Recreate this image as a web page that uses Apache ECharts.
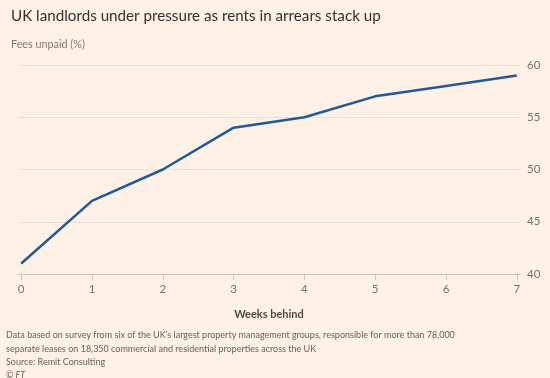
<!DOCTYPE html>
<html>
<head>
<meta charset="utf-8">
<script src="https://cdn.jsdelivr.net/npm/echarts@6/dist/echarts.min.js"></script>
<style>
html,body{margin:0;padding:0;background:#fff1e5;}
#chart{width:550px;height:378px;}
</style>
</head>
<body>
<div id="chart"></div>
<script>
const weeks = [0, 1, 2, 3, 4, 5, 6, 7];
const feesUnpaid = [41, 47, 50, 54, 55, 57, 58, 59];
const yTicks = [40, 45, 50, 55, 60];
const titleText = "UK landlords under pressure as rents in arrears stack up";
const subtitleText = "Fees unpaid (%)";
const xAxisName = "Weeks behind";
const footLines = [
  "Data based on survey from six of the UK\u2019s largest property management groups, responsible for more than 78,000",
  "separate leases on 18,350 commercial and residential properties across the UK",
  "Source: Remit Consulting",
  "\u00a9 FT"
];

const FONT = "Lato, 'Open Sans', sans-serif";
const chart = echarts.init(document.getElementById('chart'), null, {renderer: 'canvas'});

const option = {
  backgroundColor: '#fff1e5',
  animation: false,
  textStyle: {fontFamily: FONT},
  title: [
    {text: titleText, left: 6, top: 4,
     textStyle: {fontFamily: FONT, fontSize: 15.2, fontWeight: 'normal', color: '#33302e'}},
    {text: subtitleText, left: 6, top: 34,
     textStyle: {fontFamily: FONT, fontSize: 10.8, fontWeight: 'normal', color: '#807973'}}
  ],
  graphic: footLines.map((t, i) => ({
    type: 'text', left: 6, top: 331 + i * 13.2,
    style: {text: t, fontFamily: FONT, fontSize: 9, fill: '#66605c',
            fontStyle: i === 3 ? 'italic' : 'normal'}
  })),
  grid: {left: 18, right: 30, top: 65, bottom: 104, containLabel: false},
  xAxis: {
    type: 'value', min: -0.045, max: 7.045,
    name: xAxisName, nameLocation: 'middle', nameGap: 35,
    nameTextStyle: {fontFamily: FONT, fontSize: 11, fontWeight: 'bold', color: '#4d4845'},
    axisLine: {show: true, lineStyle: {color: '#cfc3b8', width: 1}},
    axisTick: {show: true, customValues: weeks, length: 6, lineStyle: {color: '#cfc3b8'}},
    axisLabel: {customValues: weeks, fontFamily: FONT, fontSize: 11.5, color: '#77706a', margin: 9},
    splitLine: {show: false}
  },
  yAxis: {
    type: 'value', position: 'right', min: 40, max: 60, interval: 5,
    axisLine: {show: false}, axisTick: {show: false},
    axisLabel: {fontFamily: FONT, fontSize: 11.5, color: '#77706a', margin: 7},
    splitLine: {lineStyle: {color: '#ece0d5', width: 1}}
  },
  series: [{
    type: 'line',
    data: weeks.map((w, i) => [w, feesUnpaid[i]]),
    showSymbol: false, symbol: 'none',
    lineStyle: {color: '#1f5a99', width: 2.5},
    z: 5
  }]
};
chart.setOption(option);
</script>
</body>
</html>
